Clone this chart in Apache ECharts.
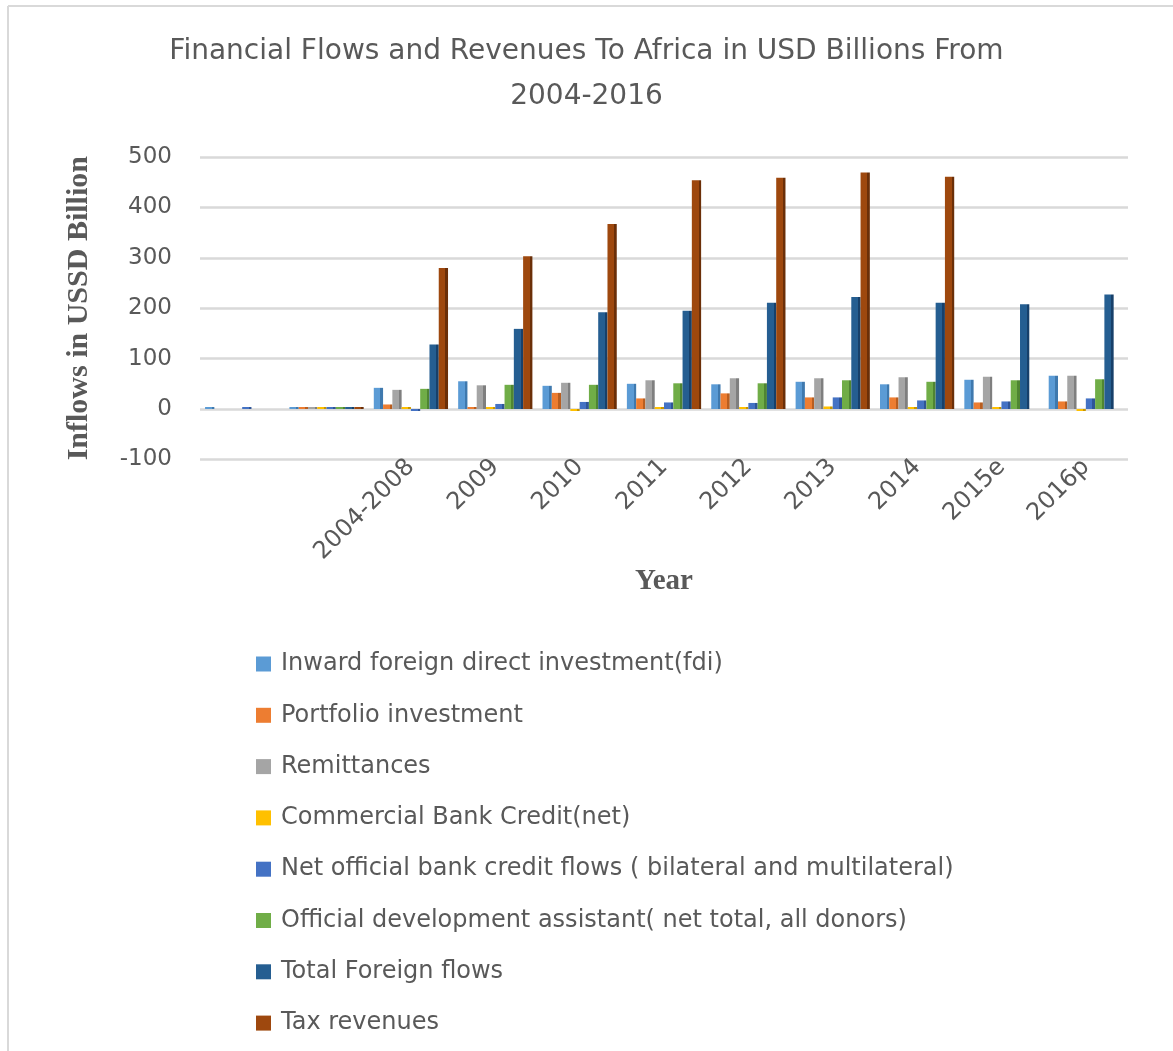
<!DOCTYPE html>
<html>
<head>
<meta charset="utf-8">
<script src="https://cdn.jsdelivr.net/npm/echarts@6/dist/echarts.min.js"></script>
<style>
  html, body { margin: 0; padding: 0; background: #fff; }
  #chart { width: 1173px; height: 1051px; }
</style>
</head>
<body>
<div id="chart"></div>
<script>
const categories = ['', '', '2004-2008', '2009', '2010', '2011', '2012', '2013', '2014', '2015e', '2016p'];
const seriesNames = [
  'Inward foreign direct investment(fdi)',
  'Portfolio investment',
  'Remittances',
  'Commercial Bank Credit(net)',
  'Net official bank credit flows ( bilateral and multilateral)',
  'Official development assistant( net total, all donors)',
  'Total Foreign flows',
  'Tax revenues'
];
const fdi              = [0,    0, 42,  55,  46,  50,  49,  54,  49,  58,   66];
const portfolio        = [null, 0,  9,   1,  32,  21,  31,  23,  23,  13,   15];
const remittances      = [null, 0, 38,  47,  52,  57,  61,  61,  63,  64,   66];
const commercialCredit = [null, 0,  2,   1,  -3,   2,   3,   5,   4,   2,   -2];
const netOfficial      = [0,    0, -1,  10,  14,  13,  12,  23,  17,  15,   21];
const oda              = [null, 0, 40,  48,  48,  51,  51,  57,  54,  57,   59];
const totalForeign     = [null, 0, 128, 159, 192, 195, 211, 222, 211, 208, 227];
const taxRevenues      = [null, 0, 280, 303, 367, 454, 459, 469, 461, null, null];
const yTicks = [-100, 0, 100, 200, 300, 400, 500];

const seriesData = [fdi, portfolio, remittances, commercialCredit, netOfficial, oda, totalForeign, taxRevenues];
const colors = ['#5B9BD5', '#ED7D31', '#A5A5A5', '#FFC000', '#4472C4', '#70AD47', '#255E91', '#9E480E'];
const darks  = ['#3F79AE', '#B85E20', '#7F7F7F', '#C79500', '#2F5597', '#4F8532', '#17406A', '#6B2F08'];

const chart = echarts.init(document.getElementById('chart'));
const FONT = '"DejaVu Sans", "Open Sans", sans-serif';
const SERIF = '"Liberation Serif", "DejaVu Serif", serif';

const series = seriesData.map((d, i) => ({
  name: seriesNames[i],
  type: 'bar',
  data: d,
  barGap: '0%',
  barCategoryGap: '12%',
  barMinHeight: 2,
  itemStyle: {
    color: new echarts.graphic.LinearGradient(0, 0, 1, 0, [
      { offset: 0, color: colors[i] },
      { offset: 0.72, color: colors[i] },
      { offset: 0.72, color: darks[i] },
      { offset: 1, color: darks[i] }
    ])
  }
}));

chart.setOption({
  animation: false,
  color: colors,
  title: {
    text: 'Financial Flows and Revenues To Africa in USD Billions From\n2004-2016',
    left: 'center',
    top: 24,
    textStyle: { fontFamily: FONT, fontSize: 28, fontWeight: 'normal', color: '#595959', lineHeight: 45 }
  },
  legend: {
    orient: 'vertical',
    left: 251,
    top: 647,
    height: 420,
    icon: 'rect',
    itemWidth: 15,
    itemHeight: 15,
    itemGap: 27.3,
    data: seriesNames.map((n, i) => ({ name: n, itemStyle: { color: colors[i] } })),
    textStyle: { fontFamily: FONT, fontSize: 24, color: '#595959', lineHeight: 24, padding: [0, 0, 0, 5] }
  },
  grid: { left: 200, right: 45, top: 157, height: 302.4, containLabel: false },
  xAxis: {
    type: 'category',
    data: categories,
    boundaryGap: true,
    axisLine: { show: false, onZero: false },
    axisTick: { show: false },
    axisLabel: {
      interval: 0, rotate: 45, margin: 4,
      fontFamily: FONT, fontSize: 24, color: '#595959'
    },
    name: 'Year',
    nameLocation: 'middle',
    nameGap: 106,
    nameTextStyle: { fontFamily: SERIF, fontSize: 29, fontWeight: 'bold', color: '#595959' }
  },
  yAxis: {
    type: 'value',
    min: yTicks[0],
    max: yTicks[yTicks.length - 1],
    interval: 100,
    axisLine: { show: false },
    axisTick: { show: false },
    splitLine: { lineStyle: { color: '#d9d9d9', width: 2.5 } },
    axisLabel: { margin: 28, fontFamily: FONT, fontSize: 23, color: '#595959' },
    name: 'Inflows in USSD Billion',
    nameLocation: 'middle',
    nameGap: 106,
    nameRotate: 90,
    nameTextStyle: { fontFamily: SERIF, fontSize: 30, fontWeight: 'bold', color: '#595959' }
  },
  graphic: [
    { type: 'line', shape: { x1: 8, y1: 6, x2: 1173, y2: 6 }, style: { stroke: '#d9d9d9', lineWidth: 2 } },
    { type: 'line', shape: { x1: 8, y1: 6, x2: 8, y2: 1051 }, style: { stroke: '#d9d9d9', lineWidth: 2 } }
  ],
  series: series
});
</script>
</body>
</html>
